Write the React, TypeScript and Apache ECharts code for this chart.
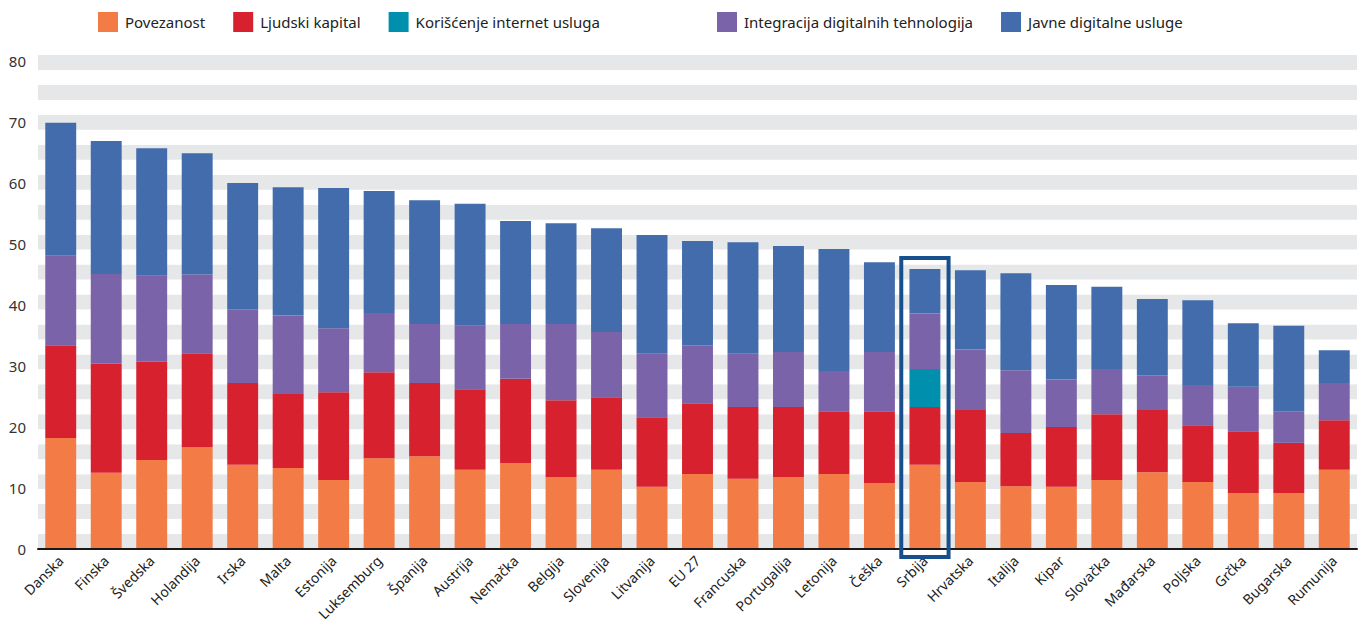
import React, { useEffect, useRef } from "react";
import * as echarts from "echarts";

const categories = [
  "Danska", "Finska", "Švedska", "Holandija", "Irska", "Malta", "Estonija",
  "Luksemburg", "Španija", "Austrija", "Nemačka", "Belgija", "Slovenija",
  "Litvanija", "EU 27", "Francuska", "Portugalija", "Letonija", "Češka",
  "Srbija", "Hrvatska", "Italija", "Kipar", "Slovačka", "Mađarska",
  "Poljska", "Grčka", "Bugarska", "Rumunija",
];

const povezanost = [
  18.2, 12.5, 14.6, 16.7, 13.8, 13.3, 11.3, 14.9, 15.2, 13.0, 14.1, 11.8, 13.0,
  10.2, 12.3, 11.5, 11.8, 12.3, 10.8, 13.8, 11.0, 10.3, 10.2, 11.3, 12.6, 11.0,
  9.2, 9.2, 13.0,
];
const ljudskiKapital = [
  15.2, 17.9, 16.1, 15.4, 13.4, 12.1, 14.4, 14.1, 12.0, 13.2, 13.8, 12.6, 11.9,
  11.4, 11.6, 11.8, 11.5, 10.3, 11.8, 9.5, 11.8, 8.7, 9.8, 10.8, 10.2, 9.3,
  10.1, 8.2, 8.1,
];
const koriscenjeInterneta = [
  0, 0, 0, 0, 0, 0, 0, 0, 0, 0, 0, 0, 0, 0, 0, 0, 0, 0, 0, 6.2, 0, 0, 0, 0, 0,
  0, 0, 0, 0,
];
const integracija = [
  14.7, 14.7, 14.1, 12.9, 12.1, 12.9, 10.5, 9.7, 9.7, 10.4, 9.0, 12.5, 10.7,
  10.4, 9.5, 8.7, 9.0, 6.6, 9.7, 9.1, 9.9, 10.3, 7.8, 7.4, 5.7, 6.6, 7.3, 5.1,
  6.1,
];
const javneUsluge = [
  21.8, 21.8, 20.9, 19.9, 20.7, 21.0, 23.0, 20.0, 20.3, 20.0, 16.9, 16.5, 17.0,
  19.5, 17.1, 18.3, 17.4, 20.0, 14.7, 7.3, 13.0, 15.9, 15.5, 13.5, 12.5, 13.9,
  10.4, 14.1, 5.4,
];

const seriesNames = [
  "Povezanost",
  "Ljudski kapital",
  "Korišćenje internet usluga",
  "Integracija digitalnih tehnologija",
  "Javne digitalne usluge",
];
const seriesValues = [povezanost, ljudskiKapital, koriscenjeInterneta, integracija, javneUsluge];
const seriesColors = ["#F37B45", "#D8212F", "#008FAC", "#7B63A9", "#426CAB"];

const yTicks = [0, 10, 20, 30, 40, 50, 60, 70, 80];

const HIGHLIGHT = "Srbija";
const HIGHLIGHT_TOP = 47.7;
const HIGHLIGHT_BOTTOM = -1.3;

const FONT = "'Noto Sans', sans-serif";

export default function App() {
  const ref = useRef<HTMLDivElement>(null);

  useEffect(() => {
    if (!ref.current) return;
    const chart = echarts.init(ref.current, undefined, { renderer: "svg" });

    const legendBase = {
      top: 12,
      padding: 0,
      itemWidth: 20,
      itemHeight: 20,
      itemGap: 28,
      icon: "rect",
      textStyle: { fontSize: 15, color: "#222", fontFamily: FONT, padding: [0, 0, 0, 2] },
    };

    const option: any = {
      animation: false,
      backgroundColor: "#ffffff",
      textStyle: { fontFamily: FONT },
      legend: [
        { ...legendBase, data: seriesNames.slice(0, 3), left: 98 },
        { ...legendBase, data: seriesNames.slice(3), left: 717 },
      ],
      grid: { left: 38, right: 6, top: 55, bottom: 79, containLabel: false },
      xAxis: {
        type: "category",
        data: categories,
        axisLine: { show: true, lineStyle: { color: "#1a1a1a", width: 2 } },
        axisTick: { show: false },
        axisLabel: {
          rotate: 45,
          interval: 0,
          margin: 9,
          fontSize: 14,
          color: "#222",
          fontFamily: FONT,
        },
        z: 5,
      },
      yAxis: [
        {
          type: "value",
          min: 0,
          max: 81,
          interval: 10,
          axisLine: { show: false },
          axisTick: { show: false },
          splitLine: { show: false },
          axisLabel: {
            margin: 12,
            fontSize: 15,
            color: "#333",
            fontFamily: FONT,
            formatter: (v: number) => (yTicks.indexOf(v) >= 0 ? String(v) : ""),
          },
        },
        {
          type: "value",
          min: 0,
          max: 33,
          interval: 1,
          position: "right",
          axisLine: { show: false },
          axisTick: { show: false },
          axisLabel: { show: false },
          splitLine: { show: false },
          splitArea: { show: true, areaStyle: { color: ["#E6E7E8", "#FFFFFF"] } },
        },
      ],
      series: seriesNames.map((name, i) => ({
        name,
        type: "bar",
        stack: "total",
        yAxisIndex: 0,
        barWidth: "68%",
        itemStyle: { color: seriesColors[i] },
        data: seriesValues[i],
      })),
    };
    chart.setOption(option);

    const idx = categories.indexOf(HIGHLIGHT);
    const p0 = chart.convertToPixel({ xAxisIndex: 0, yAxisIndex: 0 }, [idx, HIGHLIGHT_TOP]) as number[];
    const p1 = chart.convertToPixel({ xAxisIndex: 0, yAxisIndex: 0 }, [idx + 1, HIGHLIGHT_BOTTOM]) as number[];
    const pb = chart.convertToPixel({ xAxisIndex: 0, yAxisIndex: 0 }, [idx, HIGHLIGHT_BOTTOM]) as number[];
    const step = p1[0] - p0[0];
    const halfW = step * 0.52;
    chart.setOption({
      graphic: [
        {
          type: "rect",
          z: 100,
          shape: { x: p0[0] - halfW, y: p0[1], width: halfW * 2, height: pb[1] - p0[1] },
          style: { fill: "none", stroke: "#17508D", lineWidth: 4 },
        },
      ],
    });

    return () => chart.dispose();
  }, []);

  return (
    <div
      ref={ref}
      style={{ position: "fixed", left: 0, top: 0, width: 1363, height: 628 }}
    />
  );
}
